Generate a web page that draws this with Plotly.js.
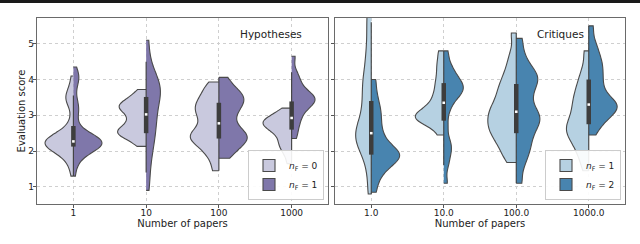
<!DOCTYPE html>
<html>
<head>
<meta charset="utf-8">
<script src="https://cdn.plot.ly/plotly-3.0.1.min.js"></script>
<style>html,body{margin:0;padding:0;background:#fff;}#chart{width:640px;height:244px;}</style>
</head>
<body>
<div id="chart"></div>
<script>
// ---------- DATA (evaluation scores) ----------
const hypCats  = ['1', '10', '100', '1000'];
const critCats = ['1.0', '10.0', '100.0', '1000.0'];
const hypLabels  = ['<i>n</i><sub>F</sub> = 0', '<i>n</i><sub>F</sub> = 1'];
const critLabels = ['<i>n</i><sub>F</sub> = 1', '<i>n</i><sub>F</sub> = 2'];

// Hypotheses, n_F = 0
const hyp1_a    = [1.3, 1.55, 1.7, 1.8, 1.88, 1.95, 2.0, 2.05, 2.08, 2.1, 2.12, 2.14, 2.15, 2.17, 2.19, 2.2, 2.21, 2.22, 2.24, 2.25,
                   2.27, 2.29, 2.3, 2.32, 2.35, 2.38, 2.4, 2.43, 2.46, 2.49, 2.6, 2.75, 2.95, 3.35, 3.4, 3.45, 3.5, 3.55, 3.65, 3.85, 4.1];
const hyp10_a   = [2.13, 2.3, 2.4, 2.45, 2.5, 2.55, 2.6, 2.65, 2.75, 2.85, 2.95, 3.05, 3.15, 3.2, 3.25, 3.3, 3.35, 3.45, 3.55, 3.72];
const hyp100_a  = [1.45, 1.8, 2.0, 2.15, 2.25, 2.35, 2.4, 2.45, 2.55, 2.65, 2.8, 2.95, 3.05, 3.15, 3.25, 3.35, 3.45, 3.6, 3.75, 3.93];
const hyp1000_a = [1.65, 1.9, 2.05, 2.15, 2.25, 2.35, 2.45, 2.55, 2.6, 2.65, 2.7, 2.75, 2.8, 2.8, 2.85, 2.9, 2.95, 3.0, 3.1, 3.2];
// Hypotheses, n_F = 1
const hyp1_b    = [1.3, 1.6, 1.75, 1.85, 1.92, 1.97, 2.02, 2.06, 2.09, 2.11, 2.13, 2.15, 2.16, 2.18, 2.2, 2.21, 2.22, 2.23, 2.24, 2.25,
                   2.27, 2.29, 2.31, 2.33, 2.36, 2.39, 2.42, 2.45, 2.48, 2.5, 2.65, 2.85, 3.05, 3.15, 3.25, 3.35, 3.6, 3.9, 4.0, 4.08, 4.15, 4.35];
const hyp10_b   = [0.9, 1.4, 1.8, 2.1, 2.3, 2.5, 2.7, 2.85, 3.0, 3.2, 3.35, 3.5, 3.6, 3.7, 3.8, 3.9, 4.0, 4.2, 4.5, 5.1];
const hyp100_b  = [1.8, 2.0, 2.15, 2.25, 2.35, 2.4, 2.5, 2.6, 2.75, 2.95, 3.1, 3.25, 3.35, 3.45, 3.55, 3.65, 3.8, 4.06];
const hyp1000_b = [2.35, 2.6, 2.8, 2.95, 3.1, 3.2, 3.3, 3.35, 3.4, 3.45, 3.5, 3.55, 3.6, 3.7, 3.85, 4.0, 4.2, 4.65];

// Critiques, n_F = 1
const crit1_a    = [0.8, 1.3, 1.7, 1.9, 2.1, 2.2, 2.3, 2.4, 2.5, 2.6, 2.7, 2.85, 3.0, 3.2, 3.4, 3.6, 3.8, 4.0, 4.2, 4.5, 4.8, 5.2, 5.6, 6.0];
const crit10_a   = [2.45, 2.7, 2.8, 2.85, 2.9, 2.95, 3.0, 3.05, 3.1, 3.2, 3.3, 3.45, 3.6, 3.8, 4.0, 4.25, 4.5, 4.8];
const crit100_a  = [1.68, 1.9, 2.1, 2.25, 2.4, 2.5, 2.6, 2.7, 2.8, 2.9, 3.0, 3.1, 3.2, 3.3, 3.45, 3.6, 3.75, 3.9, 4.1, 4.35, 4.7, 5.3];
const crit1000_a = [1.45, 1.8, 2.0, 2.2, 2.35, 2.45, 2.55, 2.65, 2.75, 2.85, 3.0, 3.15, 3.3, 3.45, 3.6, 3.8, 4.0, 4.3, 4.8];
// Critiques, n_F = 2
const crit1_b    = [0.85, 1.2, 1.4, 1.55, 1.65, 1.75, 1.8, 1.85, 1.9, 1.95, 2.0, 2.1, 2.2, 2.35, 2.5, 2.7, 2.9, 3.1, 3.3, 3.6, 4.0];
const crit10_b   = [1.1, 1.6, 1.9, 2.1, 2.3, 2.7, 3.1, 3.35, 3.5, 3.6, 3.7, 3.75, 3.8, 3.9, 4.0, 4.1, 4.25, 4.45, 4.8];
const crit100_b  = [1.1, 1.6, 1.9, 2.1, 2.3, 2.5, 2.65, 2.8, 2.9, 3.0, 3.1, 3.3, 3.5, 3.7, 3.85, 4.0, 4.1, 4.2, 4.4, 4.7, 5.15];
const crit1000_b = [2.45, 2.7, 2.85, 2.95, 3.05, 3.15, 3.2, 3.25, 3.3, 3.35, 3.45, 3.55, 3.7, 3.85, 4.0, 4.15, 4.3, 4.45, 4.6, 4.8, 5.05, 5.5];

// ---------- STYLE ----------
const FONT = 'DejaVu Sans, Arial, sans-serif';
const hypColors  = ['#c9c9de', '#7f77aa'];
const critColors = ['#b6d1e2', '#4884af'];
const edgeColor = '#4a4a4a';
const boxColor = '#3d3d3d';
const hypBW  = [[0.22, 0.21], [0.15, 0.35], [0.2, 0.2], [0.15, 0.18]];
const critBW = [[0.3, 0.22], [0.17, 0.2], [0.25, 0.25], [0.25, 0.22]];
const HALF_MAX = 0.392;   // widest half-violin of a pair, in category units

const panels = [
  {cats: hypCats, labels: hypLabels, colors: hypColors, bw: hypBW, xa: 'x', ya: 'y', legend: 'legend',
   series: [[hyp1_a, hyp10_a, hyp100_a, hyp1000_a], [hyp1_b, hyp10_b, hyp100_b, hyp1000_b]]},
  {cats: critCats, labels: critLabels, colors: critColors, bw: critBW, xa: 'x2', ya: 'y2', legend: 'legend2',
   series: [[crit1_a, crit10_a, crit100_a, crit1000_a], [crit1_b, crit10_b, crit100_b, crit1000_b]]}
];

function quantile(s, p) {
  const pos = (s.length - 1) * p, lo = Math.floor(pos), hi = Math.ceil(pos);
  return s[lo] + (s[hi] - s[lo]) * (pos - lo);
}
// peak of the gaussian KDE over the data span (same estimator Plotly uses)
function kdePeak(vals, bw) {
  const lo = Math.min(...vals), hi = Math.max(...vals), n = vals.length;
  let m = 0;
  for (let k = 0; k <= 400; k++) {
    const t = lo + (hi - lo) * k / 400;
    let s = 0;
    for (const v of vals) { const z = (t - v) / bw; s += Math.exp(-0.5 * z * z); }
    m = Math.max(m, s / (n * bw * Math.sqrt(2 * Math.PI)));
  }
  return m;
}

const traces = [];
const boxShapes = [];
panels.forEach((P, pi) => {
  P.cats.forEach((cat, ci) => {
    const peaks = [0, 1].map(si => kdePeak(P.series[si][ci], P.bw[ci][si]));
    const pmax = Math.max(...peaks);
    [0, 1].forEach(si => {
      const vals = P.series[si][ci];
      traces.push({
        type: 'violin', xaxis: P.xa, yaxis: P.ya,
        x: vals.map(() => cat), y: vals,
        side: si === 0 ? 'negative' : 'positive',
        width: 2 * HALF_MAX * peaks[si] / pmax,
        spanmode: 'hard', bandwidth: P.bw[ci][si],
        fillcolor: P.colors[si], opacity: 1,
        line: {color: edgeColor, width: 1.1},
        points: false, box: {visible: false}, meanline: {visible: false},
        name: P.labels[si], legendgroup: 'p' + pi + 's' + si,
        showlegend: ci === 0, legend: P.legend, hoverinfo: 'skip'
      });
    });
    // inner box from the combined data of both series
    const all = P.series[0][ci].concat(P.series[1][ci]).sort((a, b) => a - b);
    const q1 = quantile(all, 0.25), q2 = quantile(all, 0.5), q3 = quantile(all, 0.75);
    const lim = 1.5 * (q3 - q1);
    const wLo = Math.min(...all.filter(v => v >= q1 - lim));
    const wHi = Math.max(...all.filter(v => v <= q3 + lim));
    const ref = {xref: P.xa, yref: P.ya, type: 'line', x0: ci, x1: ci};
    boxShapes.push(Object.assign({}, ref, {y0: wLo, y1: wHi, line: {color: boxColor, width: 1.1}}));
    boxShapes.push(Object.assign({}, ref, {y0: q1, y1: q3, line: {color: boxColor, width: 4.5}}));
    boxShapes.push(Object.assign({}, ref, {y0: q2 - 0.035, y1: q2 + 0.035, line: {color: '#ffffff', width: 2.6}}));
  });
});

const common = {
  showgrid: true, gridcolor: '#cfcfcf', griddash: 'dot', gridwidth: 1,
  ticks: 'outside', ticklen: 3, tickcolor: '#555', tickwidth: 1,
  showline: true, mirror: true, linecolor: '#6a6a6a', linewidth: 1.2,
  zeroline: false, fixedrange: true,
  tickfont: {family: FONT, size: 9, color: '#222'}
};
const xdomL = [37 / 640, 328 / 640], xdomR = [335 / 640, 625 / 640];
const ydom = [40 / 244, 226 / 244];
const titleFont = {family: FONT, size: 10, color: '#222'};

const legendCommon = {
  bgcolor: 'rgba(255,255,255,0.9)', bordercolor: '#cccccc', borderwidth: 1,
  font: {family: FONT, size: 9, color: '#222'}, yanchor: 'bottom', xanchor: 'right',
  itemwidth: 30, tracegroupgap: 0, traceorder: 'normal'
};

const layout = {
  width: 640, height: 244,
  margin: {l: 0, r: 0, t: 0, b: 0},
  paper_bgcolor: '#ffffff', plot_bgcolor: '#ffffff',
  violinmode: 'overlay',
  font: {family: FONT, color: '#222'},
  xaxis: Object.assign({}, common, {domain: xdomL, anchor: 'y', type: 'category',
    categoryorder: 'array', categoryarray: hypCats, range: [-0.5, 3.5], ticklabelstandoff: -3,
    title: {text: 'Number of papers', font: titleFont, standoff: 0}}),
  yaxis: Object.assign({}, common, {domain: ydom, anchor: 'x', range: [0.52, 5.72],
    tickvals: [1, 2, 3, 4, 5], ticklabelstandoff: -3,
    title: {text: 'Evaluation score', font: titleFont, standoff: 0}}),
  xaxis2: Object.assign({}, common, {domain: xdomR, anchor: 'y2', type: 'category',
    categoryorder: 'array', categoryarray: critCats, range: [-0.5, 3.5], ticklabelstandoff: -3,
    title: {text: 'Number of papers', font: titleFont, standoff: 0}}),
  yaxis2: Object.assign({}, common, {domain: ydom, anchor: 'x2', range: [0.52, 5.72],
    tickvals: [1, 2, 3, 4, 5], showticklabels: false}),
  legend: Object.assign({}, legendCommon, {x: 324 / 640, y: 44 / 244}),
  legend2: Object.assign({}, legendCommon, {x: 621 / 640, y: 44 / 244}),
  annotations: [
    {text: 'Hypotheses', xref: 'paper', yref: 'paper', x: 271 / 640, y: 1 - 34 / 244,
     xanchor: 'center', yanchor: 'middle', showarrow: false, font: {family: FONT, size: 10.5, color: '#222'}},
    {text: 'Critiques', xref: 'paper', yref: 'paper', x: 560 / 640, y: 1 - 34 / 244,
     xanchor: 'center', yanchor: 'middle', showarrow: false, font: {family: FONT, size: 10.5, color: '#222'}}
  ],
  shapes: [
    {type: 'rect', xref: 'paper', yref: 'paper', x0: 0, x1: 1, y0: 1 - 3 / 244, y1: 1,
     fillcolor: '#1a1a1a', line: {width: 0}}
  ].concat(boxShapes)
};

Plotly.newPlot('chart', traces, layout, {displayModeBar: false, staticPlot: true});
</script>
</body>
</html>
